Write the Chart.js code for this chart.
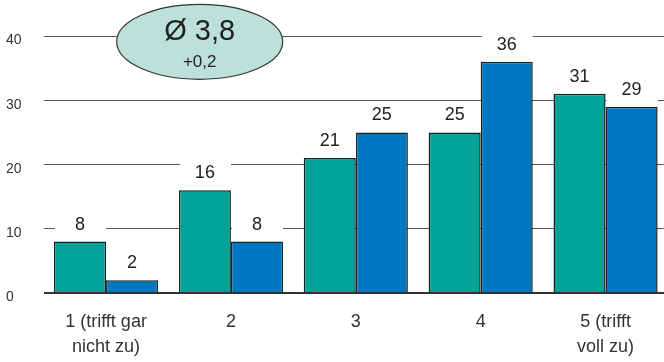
<!DOCTYPE html>
<html>
<head>
<meta charset="utf-8">
<script src="https://cdn.jsdelivr.net/npm/chart.js@4/dist/chart.umd.min.js"></script>
<style>
  html, body { margin: 0; padding: 0; overflow: hidden; background: #fff; }
  #wrap { width: 668px; height: 362px; }
</style>
</head>
<body>
<div id="wrap"><canvas id="c" width="668" height="362"></canvas></div>
<script>
// Answer categories (1 = trifft gar nicht zu … 5 = trifft voll zu)
const categories = [['1 (trifft gar', 'nicht zu)'], '2', '3', '4', ['5 (trifft', 'voll zu)']];
// Percentages for the two survey waves
const seriesA = [8, 16, 21, 25, 31];
const seriesB = [2, 8, 25, 36, 29];
const yTicks = [0, 10, 20, 30, 40];
// Mean value badge
const meanText = 'Ø 3,8';
const deltaText = '+0,2';

const FONT = "'Liberation Sans', Arial, sans-serif";

// White plate above each bar carrying its value
const valueLabels = {
  id: 'valueLabels',
  afterDatasetsDraw(chart) {
    const ctx = chart.ctx;
    ctx.save();
    chart.data.datasets.forEach((ds, i) => {
      chart.getDatasetMeta(i).data.forEach((bar, j) => {
        const p = bar.getProps(['x', 'y', 'width'], true);
        ctx.fillStyle = '#fff';
        ctx.fillRect(p.x - p.width / 2 + 1, p.y - 29, p.width - 1, 28);
        ctx.fillStyle = '#222';
        ctx.font = '18px ' + FONT;
        ctx.textAlign = 'center';
        ctx.textBaseline = 'middle';
        ctx.fillText(String(ds.data[j]), p.x, p.y - 17);
      });
    });
    ctx.restore();
  }
};

// Oval badge with the mean and its change
const meanBadge = {
  id: 'meanBadge',
  afterDraw(chart) {
    const ctx = chart.ctx;
    const cx = chart.scales.x.getPixelForValue(0.75);
    const cy = chart.scales.y.getPixelForValue(39.1);
    ctx.save();
    ctx.beginPath();
    ctx.ellipse(cx, cy, 83, 37.5, 0, 0, Math.PI * 2);
    ctx.fillStyle = '#BCE1D8';
    ctx.fill();
    ctx.lineWidth = 1.2;
    ctx.strokeStyle = '#333';
    ctx.stroke();
    ctx.fillStyle = '#222';
    ctx.textAlign = 'center';
    ctx.textBaseline = 'middle';
    ctx.font = '29px ' + FONT;
    ctx.fillText(meanText, cx, cy - 9.5);
    ctx.font = '17px ' + FONT;
    ctx.fillText(deltaText, cx, cy + 21);
    ctx.restore();
  }
};

new Chart(document.getElementById('c'), {
  type: 'bar',
  data: {
    labels: categories,
    datasets: [
      { data: seriesA, backgroundColor: '#00A398', borderColor: '#132424', borderWidth: 1.5 },
      { data: seriesB, backgroundColor: '#0077C1', borderColor: '#132424', borderWidth: 1.5 }
    ]
  },
  options: {
    responsive: false,
    animation: false,
    devicePixelRatio: 1,
    layout: { padding: { left: 6, top: 36, right: 0, bottom: 0 } },
    datasets: { bar: { barPercentage: 1, categoryPercentage: 0.834 } },
    plugins: { legend: { display: false }, tooltip: { enabled: false } },
    scales: {
      x: {
        grid: { display: false, drawTicks: false },
        border: { display: false },
        ticks: { color: '#333', font: { family: FONT, size: 18, lineHeight: 1.4 }, padding: 16, maxRotation: 0, autoSkip: false },
        afterFit(s) { s.height = 69; }
      },
      y: {
        min: 0, max: 40,
        afterBuildTicks(s) { s.ticks = yTicks.map(v => ({ value: v })); },
        grid: {
          drawTicks: false,
          color: c => c.tick && c.tick.value === 0 ? '#333' : '#555',
          lineWidth: c => c.tick && c.tick.value === 0 ? 2 : 1
        },
        border: { display: false },
        ticks: {
          crossAlign: 'far',
          color: '#333',
          font: { family: FONT, size: 14, lineHeight: '9px' },
          callback: v => ['', String(v)]
        },
        afterFit(s) { s.width = 37.6; }
      }
    }
  },
  plugins: [valueLabels, meanBadge]
});
</script>
</body>
</html>
